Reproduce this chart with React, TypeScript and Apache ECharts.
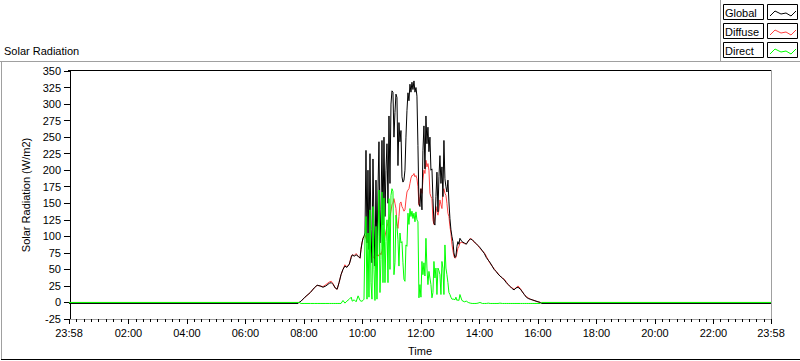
import { useEffect, useRef } from "react";
import * as echarts from "echarts";

const FONT = '"Liberation Sans", Arial, sans-serif';

const seriesNames = ["Global", "Diffuse", "Direct"];
const seriesColors = ["#000000", "#ff4040", "#00ff00"];
const seriesLayer = [3, 2, 4];

// x axis in minutes since midnight; the chart spans 23:58 (previous day) to 23:58
const dayStart = -2;
const dayEnd = 1438;
const majorTicks = [-2, 120, 240, 360, 480, 600, 720, 840, 960, 1080, 1200, 1320, 1438];

const yMin = -25;
const yMax = 350;
const yStep = 25;

// night-time levels
const nightGlobal = -1.5;
const nightDiffuse = 0;
const nightDirect = 0;

// morning (07:50 - 09:57)
const morningTimes = [470, 474, 482, 493, 501, 507, 513, 519, 525, 532, 536, 540, 544, 548, 552, 556, 560, 564, 568, 573, 577, 579, 583, 587, 591, 595, 597];
const morningGlobal = [0, 2, 8, 15, 22, 26, 25, 23, 25, 29, 30, 27, 22, 20, 30, 42, 50, 55, 53, 58, 68, 72, 70, 72, 70, 67, 80];
const morningDiffuse = [0, 2, 8, 15, 22, 26, 25, 24, 27, 31, 32, 28, 22, 20, 30, 42, 50, 57, 54, 58, 70, 72, 71, 74, 70, 67, 82];
const morningDirect = [0, -1.5, -1.5, -1.5, -1.5, -1.5, -1.5, -1.5, -1.5, -1.5, -1.5, -1.5, -1.5, -1.5, -1.5, -1.5, 3, -1, 2, 5, 8, 2, 4, 1, 10, 3, 2];

// midday, sampled every 2.05 minutes from 09:59
const middayStart = 599;
const middayStep = 2.05;
const middayGlobal = [
  90, 97, 100, 105, 230, 90, 200, 80, 225, 110,
  60, 217, 120, 55, 185, 70, 170, 243, 90, 140,
  245, 117, 250, 130, 200, 240, 150, 282, 180, 300,
  320, 318, 250, 287, 315, 310, 207, 272, 243, 260,
  190, 182, 185, 200, 250, 290, 317, 305, 330, 318,
  333, 322, 335, 318, 325, 312, 237, 150, 145, 172,
  140, 230, 267, 202, 282, 240, 265, 228, 250, 200,
  202, 157, 120, 117, 160, 197, 137, 190, 222, 180,
  205, 160, 245, 187, 175, 167, 185, 152, 127, 110,
  100, 92, 75, 68, 70, 85, 92, 88, 97,
];
const middayDiffuse = [
  90, 97, 100, 102, 97, 95, 92, 90, 85, 80,
  75, 70, 67, 67, 70, 72, 70, 72, 75, 72,
  78, 85, 92, 100, 108, 115, 120, 125, 130, 138,
  148, 150, 157, 150, 142, 120, 112, 130, 150, 152,
  145, 142, 138, 140, 155, 167, 170, 172, 180, 188,
  192, 192, 195, 190, 192, 187, 175, 147, 160, 172,
  165, 185, 200, 195, 215, 205, 210, 200, 165, 160,
  157, 125, 118, 130, 145, 137, 132, 140, 155, 148,
  142, 168, 172, 165, 162, 150, 135, 130, 115, 105,
  88, 78, 70, 67, 68, 75, 82, 85, 90,
];
const middayDirect = [
  2, 3, 5, 100, 130, 5, 105, 8, 140, 30,
  5, 145, 50, 3, 115, 5, 100, 170, 15, 65,
  167, 30, 158, 30, 92, 125, 30, 157, 50, 162,
  172, 168, 42, 60, 132, 115, 95, 55, 105, 90,
  92, 60, 35, 32, 87, 85, 135, 118, 142, 130,
  138, 127, 135, 122, 137, 125, 122, 7, 27, 8,
  62, 42, 60, 40, 97, 52, 27, 47, 37, 27,
  7, 15, 62, 37, 52, 12, 52, 48, 42, 12,
  62, 52, 12, 87, 52, 42, 30, 15, 12, 8,
  5, 5, 5, 4, 8, 3, 4, 3, 12,
];

// afternoon (13:24 - 16:05)
const afternoonTimes = [804, 809, 813, 817, 821, 825, 829, 833, 837, 841, 846, 850, 854, 858, 862, 866, 870, 874, 878, 882, 887, 891, 895, 899, 903, 907, 911, 915, 919, 924, 928, 932, 936, 940, 944, 948, 952, 956, 960, 965];
const afternoonGlobal = [92, 90, 88, 93, 96, 95, 92, 89, 86, 83, 78, 74, 68, 64, 60, 55, 50, 47, 43, 40, 37, 34, 30, 27, 24, 21, 19, 22, 23, 20, 16, 12, 8, 6, 5, 4, 3, 2, 1, 0];
const afternoonDiffuse = [91, 89, 89, 92, 97, 95, 91, 89, 86, 82, 78, 75, 70, 64, 59, 55, 51, 47, 44, 40, 37, 35, 31, 27, 24, 22, 20, 22, 25, 21, 16, 12, 9, 7, 5, 4, 3, 2, 1, 0];
const afternoonDirect = [3, 1, 2, 0, -1, -1.5, -1.5, -1.5, -1, 0, -1.5, -1.5, -1.5, -1, -1.5, -1.5, -1.5, -1.5, -1.5, -1, -1.5, -1.5, -1.5, -1.5, -1.5, -1.5, -1.5, -1.5, -1.5, -1.5, -1.5, -1.5, -1.5, -1.5, -1.5, -1.5, -1.5, -1.5, -1.5, -1.5];

function buildSeries(night: number, morning: number[], midday: number[], afternoon: number[]) {
  const pts: number[][] = [];
  pts.push([dayStart, night]);
  pts.push([morningTimes[0] - 2, night]);
  morningTimes.forEach((t, i) => pts.push([t, morning[i]]));
  midday.forEach((v, i) => pts.push([middayStart + i * middayStep, v]));
  afternoonTimes.forEach((t, i) => pts.push([t, afternoon[i]]));
  pts.push([afternoonTimes[afternoonTimes.length - 1] + 2, night]);
  pts.push([dayEnd, night]);
  return pts;
}

function fmtTime(v: number) {
  const m = ((Math.round(v) % 1440) + 1440) % 1440;
  const h = Math.floor(m / 60);
  const mm = m % 60;
  return String(h).padStart(2, "0") + ":" + String(mm).padStart(2, "0");
}

export default function App() {
  const ref = useRef<HTMLDivElement>(null);
  useEffect(() => {
    if (!ref.current) return;
    const chart = echarts.init(ref.current, null, { renderer: "svg" });

    const minorTicks: number[] = [];
    for (let i = 0; i < majorTicks.length - 1; i++) {
      const a = majorTicks[i];
      const b = majorTicks[i + 1];
      for (let k = 1; k < 8; k++) minorTicks.push(a + ((b - a) * k) / 8);
    }

    const data = [
      buildSeries(nightGlobal, morningGlobal, middayGlobal, afternoonGlobal),
      buildSeries(nightDiffuse, morningDiffuse, middayDiffuse, afternoonDiffuse),
      buildSeries(nightDirect, morningDirect, middayDirect, afternoonDirect),
    ];

    const gray = "#a0a0a0";
    const legendRows = seriesNames.map((name, i) => {
      const y = 4 + i * 19;
      return [
        { type: "rect", shape: { x: 723.5, y: y + 0.5, width: 40, height: 15 }, style: { fill: "#fff", stroke: "#000", lineWidth: 1 }, silent: true },
        { type: "text", x: 725, y: y + 8.5, style: { text: name, font: `11px ${FONT}`, fill: "#000", verticalAlign: "middle" }, silent: true },
        { type: "rect", shape: { x: 767.5, y: y + 0.5, width: 30, height: 15 }, style: { fill: "#fff", stroke: "#000", lineWidth: 1 }, silent: true },
        {
          type: "polyline",
          shape: { points: [[770, y + 12], [775, y + 7], [781, y + 10], [786, y + 9], [791, y + 12], [796, y + 7]] },
          style: { stroke: seriesColors[i], lineWidth: 1, fill: "none" },
          silent: true,
        },
      ];
    }).flat();

    chart.setOption({
      animation: false,
      backgroundColor: "#ffffff",
      textStyle: { fontFamily: FONT, color: "#000" },
      grid: { left: 69, top: 71, width: 702, height: 250, containLabel: false },
      xAxis: [
        {
          type: "value",
          min: dayStart,
          max: dayEnd,
          position: "bottom",
          axisLine: { show: true, onZero: false, lineStyle: { color: gray, width: 1 } },
          axisTick: { show: true, customValues: majorTicks, length: 5, lineStyle: { color: "#000", width: 1 } },
          axisLabel: { show: true, customValues: majorTicks, formatter: (v: number) => fmtTime(v), color: "#000", fontSize: 11, fontFamily: FONT, margin: 8 },
          splitLine: { show: false },
          name: "Time",
          nameLocation: "middle",
          nameGap: 26,
          nameTextStyle: { color: "#000", fontSize: 11, fontFamily: FONT },
        },
        {
          type: "value",
          min: dayStart,
          max: dayEnd,
          position: "bottom",
          axisLine: { show: false, onZero: false },
          axisTick: { show: true, customValues: minorTicks, length: 3, lineStyle: { color: "#000", width: 1 } },
          axisLabel: { show: false },
          splitLine: { show: false },
        },
      ],
      yAxis: {
        type: "value",
        min: yMin,
        max: yMax,
        interval: yStep,
        axisLine: { show: true, lineStyle: { color: "#000", width: 1 } },
        axisTick: { show: true, length: 6, lineStyle: { color: "#000", width: 1 } },
        axisLabel: { color: "#000", fontSize: 11, fontFamily: FONT, margin: 8 },
        splitLine: { show: false },
        name: "Solar Radiation (W/m2)",
        nameLocation: "middle",
        nameRotate: 90,
        nameGap: 32,
        nameTextStyle: { color: "#000", fontSize: 11, fontFamily: FONT },
      },
      series: seriesNames.map((name, i) => ({
        name,
        type: "line",
        xAxisIndex: 0,
        z: seriesLayer[i],
        data: data[i],
        showSymbol: false,
        symbol: "none",
        lineStyle: { color: seriesColors[i], width: 1 },
        itemStyle: { color: seriesColors[i] },
        silent: true,
      })),
      graphic: [
        { type: "text", x: 4, y: 50.5, style: { text: "Solar Radiation", font: `11px ${FONT}`, fill: "#000", verticalAlign: "middle" }, silent: true },
        // outer frame
        { type: "line", shape: { x1: 0, y1: 61.5, x2: 800, y2: 61.5 }, style: { stroke: gray, lineWidth: 1 }, silent: true },
        { type: "line", shape: { x1: 1.5, y1: 61, x2: 1.5, y2: 360 }, style: { stroke: gray, lineWidth: 1 }, silent: true },
        { type: "line", shape: { x1: 1, y1: 359.5, x2: 800, y2: 359.5 }, style: { stroke: "#000", lineWidth: 1 }, silent: true },
        { type: "line", shape: { x1: 720.5, y1: 0, x2: 720.5, y2: 61 }, style: { stroke: gray, lineWidth: 1 }, silent: true },
        // plot frame
        { type: "line", shape: { x1: 68, y1: 70.5, x2: 772, y2: 70.5 }, style: { stroke: "#000", lineWidth: 1 }, silent: true },
        { type: "line", shape: { x1: 771.5, y1: 70, x2: 771.5, y2: 322 }, style: { stroke: gray, lineWidth: 1 }, silent: true },
        ...legendRows,
      ],
    });
    return () => chart.dispose();
  }, []);
  return <div ref={ref} style={{ position: "fixed", left: 0, top: 0, width: 800, height: 361 }} />;
}
